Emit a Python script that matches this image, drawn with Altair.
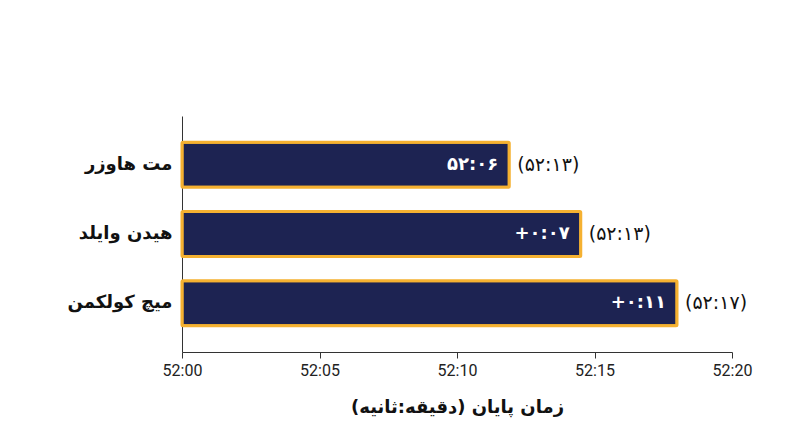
import altair as alt
import pandas as pd

names = ["مت هاوزر", "هیدن وایلد", "میچ کولکمن"]
finish = [11.9, 14.5, 18.0]  # seconds after 52:00
inner_labels = ["۵۲:۰۶", "+۰:۰۷", "+۰:۱۱"]
outer_labels = ["(۵۲:۱۳)", "(۵۲:۱۳)", "(۵۲:۱۷)"]
tick_values = [0, 5, 10, 15, 20]
tick_labels = ["52:00", "52:05", "52:10", "52:15", "52:20"]

df = pd.DataFrame({"name": names, "t": finish, "inner": inner_labels, "outer": outer_labels})

label_expr = " : ".join(
    f"datum.value == {v} ? '{l}'" for v, l in zip(tick_values, tick_labels)
) + " : ''"

x = alt.X("t:Q", scale=alt.Scale(domain=[0, 20], nice=False, zero=True),
          axis=alt.Axis(values=tick_values, labelExpr=label_expr, grid=False, labelFlush=False,
                        title="زمان پایان (دقیقه:ثانیه)", titleFont="DejaVu Sans",
                        titleFontSize=18, titleFontWeight="bold", titleColor="#111",
                        titlePadding=20, labelFont="Roboto", labelFontSize=16,
                        labelColor="#222", labelPadding=4, domainColor="#333",
                        tickColor="#333", tickSize=6))
y = alt.Y("name:N", sort=names,
          scale=alt.Scale(paddingInner=0.35, paddingOuter=0.38),
          axis=alt.Axis(title=None, ticks=False, labelFont="DejaVu Sans", labelFontSize=18,
                        labelFontWeight="bold", labelColor="#111", labelPadding=10,
                        domainColor="#333"))

base = alt.Chart(df)
bars = base.mark_bar(color="#1d2352", stroke="#f5b131", strokeWidth=3, cornerRadius=1).encode(x=x, y=y)
inner = base.mark_text(align="right", baseline="middle", dx=-11, color="white",
                       font="DejaVu Sans", fontSize=18, fontWeight="bold").encode(
    x="t:Q", y=alt.Y("name:N", sort=names), text="inner:N")
outer = base.mark_text(align="left", baseline="middle", dx=8, color="#111",
                       font="DejaVu Sans", fontSize=19).encode(
    x="t:Q", y=alt.Y("name:N", sort=names), text="outer:N")

chart = (bars + inner + outer).properties(
    width=550, height=236,
    background="white",
    autosize=alt.AutoSizeParams(type="none"),
    padding={"left": 174, "top": 108, "right": 60, "bottom": 80},
).configure_view(strokeWidth=0, stroke="transparent")

chart.save("out.html", embed_options={"renderer": "svg", "actions": False})
